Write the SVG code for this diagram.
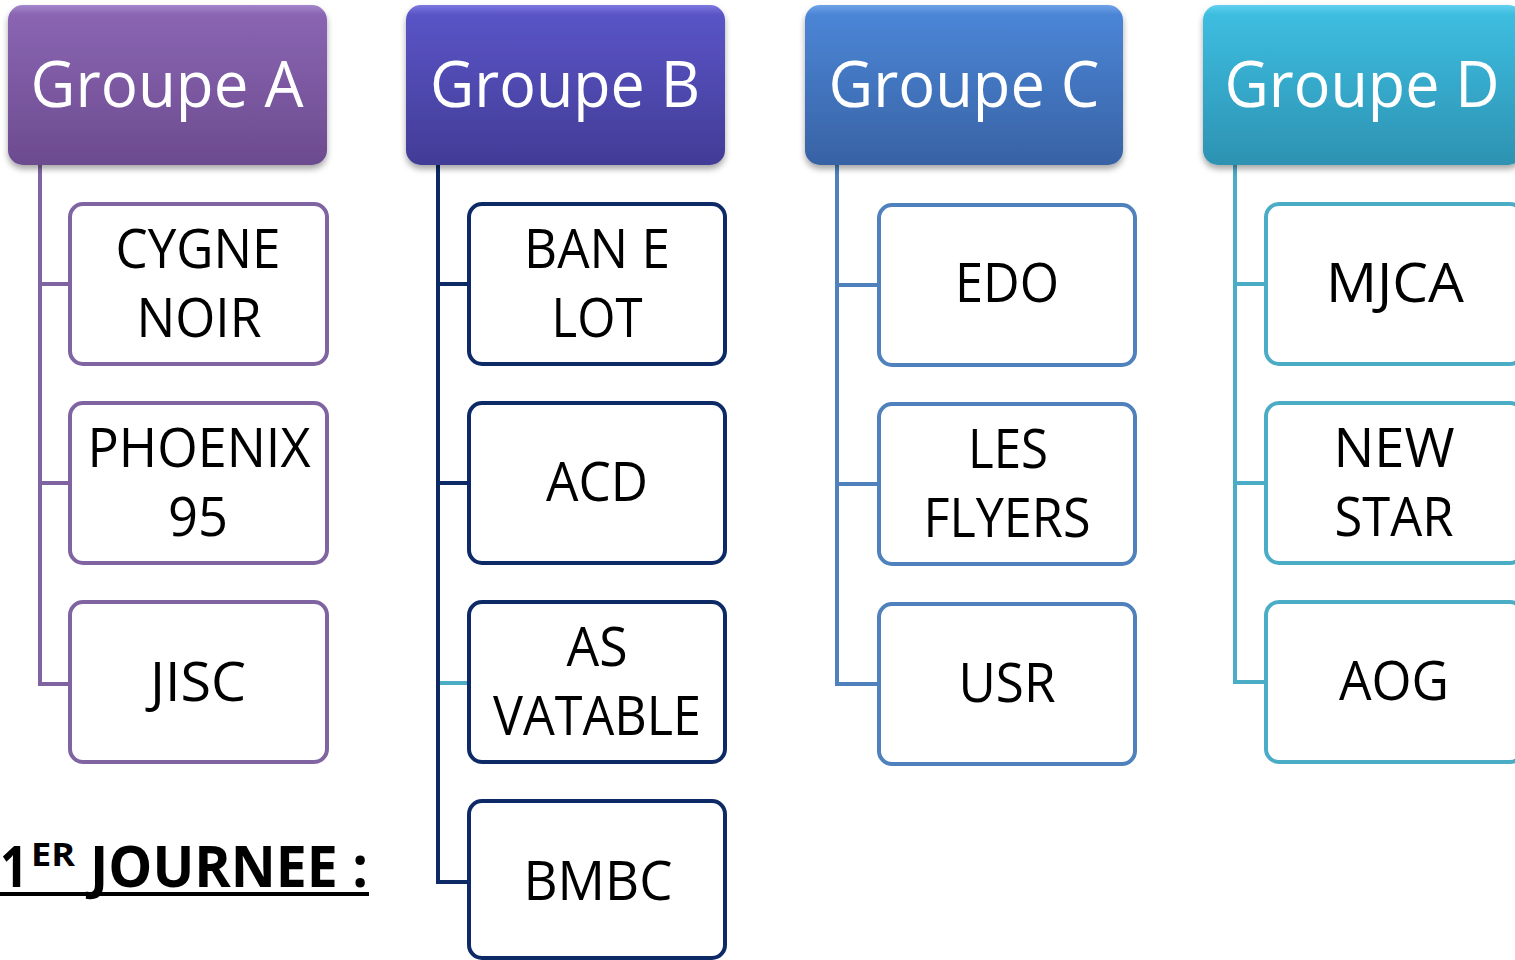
<svg xmlns="http://www.w3.org/2000/svg" width="1515" height="960" viewBox="0 0 1515 960">
<defs>
<linearGradient id="gA" x1="0" y1="0" x2="0" y2="1"><stop offset="0" stop-color="#a386cc"/><stop offset="0.06" stop-color="#8a65b2"/><stop offset="1" stop-color="#6c4b8f"/></linearGradient>
<linearGradient id="gB" x1="0" y1="0" x2="0" y2="1"><stop offset="0" stop-color="#7d78e0"/><stop offset="0.06" stop-color="#5a54c6"/><stop offset="1" stop-color="#423c96"/></linearGradient>
<linearGradient id="gC" x1="0" y1="0" x2="0" y2="1"><stop offset="0" stop-color="#6fa3e8"/><stop offset="0.06" stop-color="#4b85d6"/><stop offset="1" stop-color="#3862a4"/></linearGradient>
<linearGradient id="gD" x1="0" y1="0" x2="0" y2="1"><stop offset="0" stop-color="#62d0ee"/><stop offset="0.06" stop-color="#3dbde0"/><stop offset="1" stop-color="#2d92b2"/></linearGradient>
<filter id="sh" x="-10%" y="-10%" width="120%" height="130%"><feDropShadow dx="0" dy="4" stdDeviation="3" flood-color="#000" flood-opacity="0.35"/></filter>
</defs>
<style>
.hd{font-family:"Open Sans","Noto Sans",sans-serif;font-size:64px;fill:#fff;text-anchor:middle}
.lb{font-family:"Open Sans","Noto Sans",sans-serif;font-size:54px;fill:#000;text-anchor:middle}
.bx{fill:#fff;stroke-width:4}
.cn{fill:none;stroke-width:4}
.a{stroke:#8064a2}.b{stroke:#0e2a66}.c{stroke:#4f81bd}.d{stroke:#4bacc6}
</style>
<g id="connectors">
<path class="cn a" d="M40 165V684H70M40 284H70M40 483H70"/>
<path class="cn b" d="M438 165V882H469M438 284H469M438 483H469"/>
<path class="cn d" d="M440 683H469"/>
<path class="cn c" d="M837 165V684H879M837 285H879M837 484H879"/>
<path class="cn d" d="M1235 165V682H1266M1235 284H1266M1235 483H1266"/>
</g>
<g id="groupeA"><rect x="8" y="5" width="319" height="160" rx="15" fill="url(#gA)" filter="url(#sh)"/><text class="hd" x="167" y="107" textLength="273" lengthAdjust="spacingAndGlyphs">Groupe A</text></g>
<g id="groupeB"><rect x="406" y="5" width="319" height="160" rx="15" fill="url(#gB)" filter="url(#sh)"/><text class="hd" x="565" y="107" textLength="270" lengthAdjust="spacingAndGlyphs">Groupe B</text></g>
<g id="groupeC"><rect x="805" y="5" width="318" height="160" rx="15" fill="url(#gC)" filter="url(#sh)"/><text class="hd" x="964" y="107" textLength="271" lengthAdjust="spacingAndGlyphs">Groupe C</text></g>
<g id="groupeD"><rect x="1203" y="5" width="320" height="160" rx="15" fill="url(#gD)" filter="url(#sh)"/><text class="hd" x="1362" y="107" textLength="275" lengthAdjust="spacingAndGlyphs">Groupe D</text></g>

<g id="cygne"><rect class="bx a" x="70" y="204" width="257" height="160" rx="13"/><text class="lb" x="198" y="268" textLength="165" lengthAdjust="spacingAndGlyphs">CYGNE</text><text class="lb" x="199" y="337" textLength="125" lengthAdjust="spacingAndGlyphs">NOIR</text></g>
<g id="phoenix"><rect class="bx a" x="70" y="403" width="257" height="160" rx="13"/><text class="lb" x="199" y="467" textLength="223" lengthAdjust="spacingAndGlyphs">PHOENIX</text><text class="lb" x="198" y="536" textLength="60" lengthAdjust="spacingAndGlyphs">95</text></g>
<g id="jisc"><rect class="bx a" x="70" y="602" width="257" height="160" rx="13"/><text class="lb" x="198" y="701" textLength="96" lengthAdjust="spacingAndGlyphs">JISC</text></g>

<g id="banelot"><rect class="bx b" x="469" y="204" width="256" height="160" rx="13"/><text class="lb" x="597" y="268" textLength="146" lengthAdjust="spacingAndGlyphs">BAN E</text><text class="lb" x="597" y="337" textLength="91" lengthAdjust="spacingAndGlyphs">LOT</text></g>
<g id="acd"><rect class="bx b" x="469" y="403" width="256" height="160" rx="13"/><text class="lb" x="597" y="501" textLength="102" lengthAdjust="spacingAndGlyphs">ACD</text></g>
<g id="asvatable"><rect class="bx b" x="469" y="602" width="256" height="160" rx="13"/><text class="lb" x="597" y="666" textLength="61" lengthAdjust="spacingAndGlyphs">AS</text><text class="lb" x="597" y="735" textLength="208" lengthAdjust="spacingAndGlyphs">VATABLE</text></g>
<g id="bmbc"><rect class="bx b" x="469" y="801" width="256" height="157" rx="13"/><text class="lb" x="598" y="900" textLength="149" lengthAdjust="spacingAndGlyphs">BMBC</text></g>

<g id="edo"><rect class="bx c" x="879" y="205" width="256" height="160" rx="13"/><text class="lb" x="1007" y="302" textLength="104" lengthAdjust="spacingAndGlyphs">EDO</text></g>
<g id="lesflyers"><rect class="bx c" x="879" y="404" width="256" height="160" rx="13"/><text class="lb" x="1008" y="468" textLength="80" lengthAdjust="spacingAndGlyphs">LES</text><text class="lb" x="1007" y="537" textLength="167" lengthAdjust="spacingAndGlyphs">FLYERS</text></g>
<g id="usr"><rect class="bx c" x="879" y="604" width="256" height="160" rx="13"/><text class="lb" x="1007" y="702" textLength="97" lengthAdjust="spacingAndGlyphs">USR</text></g>

<g id="mjca"><rect class="bx d" x="1266" y="204" width="257" height="160" rx="13"/><text class="lb" x="1395" y="302" textLength="138" lengthAdjust="spacingAndGlyphs">MJCA</text></g>
<g id="newstar"><rect class="bx d" x="1266" y="403" width="257" height="160" rx="13"/><text class="lb" x="1394" y="467" textLength="121" lengthAdjust="spacingAndGlyphs">NEW</text><text class="lb" x="1394" y="536" textLength="119" lengthAdjust="spacingAndGlyphs">STAR</text></g>
<g id="aog"><rect class="bx d" x="1266" y="602" width="257" height="160" rx="13"/><text class="lb" x="1394" y="700" textLength="110" lengthAdjust="spacingAndGlyphs">AOG</text></g>

<g id="journee" font-family="'Open Sans','Noto Sans',sans-serif" font-weight="bold" fill="#000">
<text x="0" y="887" font-size="58" textLength="28" lengthAdjust="spacingAndGlyphs">1</text>
<text x="31" y="866" font-size="32" textLength="44" lengthAdjust="spacingAndGlyphs">ER</text>
<text x="90" y="887" font-size="58" textLength="278" lengthAdjust="spacingAndGlyphs">JOURNEE :</text>
<rect x="0" y="892" width="369" height="4"/>
</g>
</svg>
